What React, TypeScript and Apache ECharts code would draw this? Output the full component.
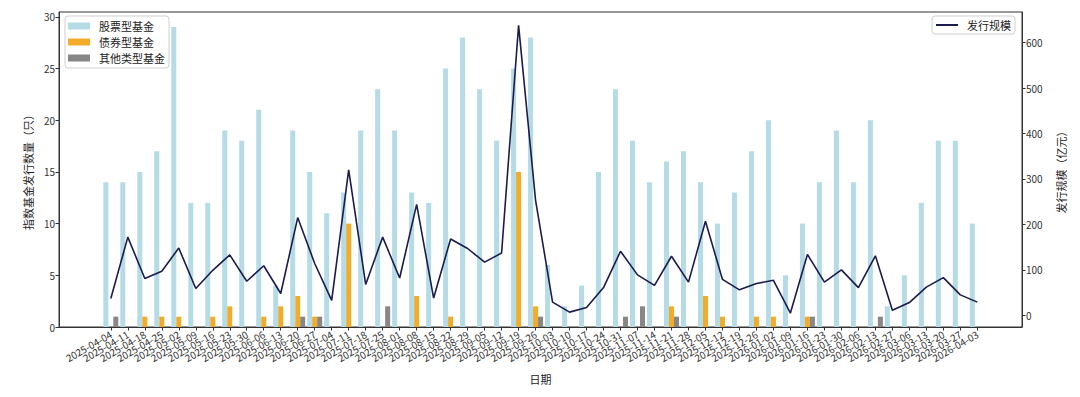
import React, { useEffect, useRef } from "react";
import * as echarts from "echarts";

const dates = [
  "2025-04-04", "2025-04-11", "2025-04-18", "2025-04-25", "2025-05-02", "2025-05-09",
  "2025-05-16", "2025-05-23", "2025-05-30", "2025-06-06", "2025-06-13", "2025-06-20",
  "2025-06-27", "2025-07-04", "2025-07-11", "2025-07-18", "2025-07-25", "2025-08-01",
  "2025-08-08", "2025-08-15", "2025-08-22", "2025-08-29", "2025-09-05", "2025-09-12",
  "2025-09-19", "2025-09-26", "2025-10-03", "2025-10-10", "2025-10-17", "2025-10-24",
  "2025-10-31", "2025-11-07", "2025-11-14", "2025-11-21", "2025-11-28", "2025-12-05",
  "2025-12-12", "2025-12-19", "2025-12-26", "2026-01-02", "2026-01-09", "2026-01-16",
  "2026-01-23", "2026-01-30", "2026-02-06", "2026-02-13", "2026-02-27", "2026-03-06",
  "2026-03-13", "2026-03-20", "2026-03-27", "2026-04-03",
];

const stockCounts = [
  14, 14, 15, 17, 29, 12, 12, 19, 18, 21, 4, 19, 15, 11, 13, 19, 23, 19, 13, 12,
  25, 28, 23, 18, 25, 28, 6, 2, 4, 15, 23, 18, 14, 16, 17, 14, 10, 13, 17, 20,
  5, 10, 14, 19, 14, 20, 2, 5, 12, 18, 18, 10,
];

const bondCounts = [
  0, 0, 1, 1, 1, 0, 1, 2, 0, 1, 2, 3, 1, 0, 10, 0, 0, 0, 3, 0,
  1, 0, 0, 0, 15, 2, 0, 0, 0, 0, 0, 0, 0, 2, 0, 3, 1, 0, 1, 1,
  0, 1, 0, 0, 0, 0, 0, 0, 0, 0, 0, 0,
];

const otherCounts = [
  1, 0, 0, 0, 0, 0, 0, 0, 0, 0, 0, 1, 1, 0, 0, 0, 2, 0, 0, 0,
  0, 0, 0, 0, 0, 1, 0, 0, 0, 0, 1, 2, 0, 1, 0, 0, 0, 0, 0, 0,
  0, 1, 0, 0, 0, 1, 0, 0, 0, 0, 0, 0,
];

const issueScale = [
  37, 172, 81, 97, 148, 59, 99, 133, 75, 109, 48, 215, 114, 33, 320, 68, 172, 82, 244, 38,
  168, 147, 117, 137, 638, 253, 29, 7, 17, 61, 141, 89, 66, 130, 73, 207, 79, 56, 70, 77,
  5, 134, 73, 100, 61, 131, 11, 28, 62, 83, 45, 29,
];

const leftTicks = [0, 5, 10, 15, 20, 25, 30];
const rightTicks = [0, 100, 200, 300, 400, 500, 600];

export default function App() {
  const ref = useRef<HTMLDivElement>(null);

  useEffect(() => {
    document.body.style.margin = "0";
    const chart = echarts.init(ref.current!, null, { renderer: "svg" });
    const font = '"Noto Sans CJK SC", "Noto Sans", sans-serif';
    const idx = dates.map((_, i) => i);
    const xMin = -3.05;
    const xMax = 53.63;
    // empty guard labels at both ends so no real date label is dropped by min/max overlap handling
    const labelValues = [-3, ...idx, 53];
    const axisColor = "#333";

    chart.setOption({
      animation: false,
      textStyle: { fontFamily: font },
      grid: {
        left: 59,
        right: 58,
        top: 12,
        bottom: 70,
        show: true,
        borderColor: axisColor,
        borderWidth: 1,
        backgroundColor: "transparent",
      },
      legend: [
        {
          data: ["股票型基金", "债券型基金", "其他类型基金"],
          orient: "vertical",
          left: 65,
          top: 16,
          icon: "rect",
          itemWidth: 22,
          itemHeight: 7,
          itemGap: 2,
          padding: [3, 4, 3, 3],
          borderColor: "#d0d0d0",
          borderWidth: 1,
          borderRadius: 3,
          backgroundColor: "rgba(255,255,255,0.85)",
          textStyle: { fontFamily: font, fontSize: 11, color: "#222", lineHeight: 14, padding: [0, 0, 0, 4] },
        },
        {
          data: ["发行规模"],
          orient: "vertical",
          right: 65,
          top: 16,
          icon: "rect",
          itemWidth: 22,
          itemHeight: 2,
          padding: [2, 4, 2, 4],
          borderColor: "#d0d0d0",
          borderWidth: 1,
          borderRadius: 3,
          backgroundColor: "rgba(255,255,255,0.85)",
          textStyle: { fontFamily: font, fontSize: 11, color: "#222", lineHeight: 14, padding: [0, 0, 0, 4] },
        },
      ],
      xAxis: {
        type: "value",
        min: xMin,
        max: xMax,
        name: "日期",
        nameLocation: "middle",
        nameGap: 46,
        nameTextStyle: { fontFamily: font, fontSize: 11, color: "#222" },
        splitLine: { show: false },
        axisLine: { show: true, onZero: false, lineStyle: { color: axisColor, width: 1 } },
        axisTick: { show: true, customValues: idx, length: 3.5, lineStyle: { color: axisColor } },
        axisLabel: {
          customValues: labelValues,
          formatter: (v: number) => dates[Math.round(v)] ?? "",
          rotate: 30,
          margin: 6,
          hideOverlap: false,
          fontFamily: font,
          fontSize: 10,
          color: "#333",
        },
      },
      yAxis: [
        {
          type: "value",
          min: 0,
          max: 30.46,
          position: "left",
          name: "指数基金发行数量（只）",
          nameLocation: "middle",
          nameGap: 21,
          nameTextStyle: { fontFamily: font, fontSize: 11, color: "#222" },
          splitLine: { show: false },
          axisLine: { show: true, onZero: false, lineStyle: { color: axisColor, width: 1 } },
          axisTick: { show: true, customValues: leftTicks, length: 3.5, lineStyle: { color: axisColor } },
          axisLabel: { customValues: leftTicks, margin: 4, fontFamily: font, fontSize: 10, color: "#333" },
        },
        {
          type: "value",
          min: -25.7,
          max: 667.3,
          position: "right",
          name: "发行规模（亿元）",
          nameLocation: "middle",
          nameGap: 33,
          nameTextStyle: { fontFamily: font, fontSize: 11, color: "#222" },
          splitLine: { show: false },
          axisLine: { show: true, onZero: false, lineStyle: { color: axisColor, width: 1 } },
          axisTick: { show: true, customValues: rightTicks, length: 3.5, lineStyle: { color: axisColor } },
          axisLabel: { customValues: rightTicks, margin: 4, fontFamily: font, fontSize: 10, color: "#333" },
        },
      ],
      series: [
        {
          name: "股票型基金",
          type: "bar",
          yAxisIndex: 0,
          barWidth: 5,
          barGap: "0%",
          itemStyle: { color: "#b4dbe6" },
          data: idx.map((i) => [i, stockCounts[i]]),
        },
        {
          name: "债券型基金",
          type: "bar",
          yAxisIndex: 0,
          barWidth: 5,
          barGap: "0%",
          itemStyle: { color: "#f3ac2a" },
          data: idx.map((i) => [i, bondCounts[i]]),
        },
        {
          name: "其他类型基金",
          type: "bar",
          yAxisIndex: 0,
          barWidth: 5,
          barGap: "0%",
          itemStyle: { color: "#878787" },
          data: idx.map((i) => [i, otherCounts[i]]),
        },
        {
          name: "发行规模",
          type: "line",
          yAxisIndex: 1,
          symbol: "none",
          z: 5,
          lineStyle: { color: "#1b1b4d", width: 1.6 },
          itemStyle: { color: "#1b1b4d" },
          data: idx.map((i) => [i, issueScale[i]]),
        },
      ],
    });

    return () => chart.dispose();
  }, []);

  return <div ref={ref} style={{ width: 1080, height: 397 }} />;
}
